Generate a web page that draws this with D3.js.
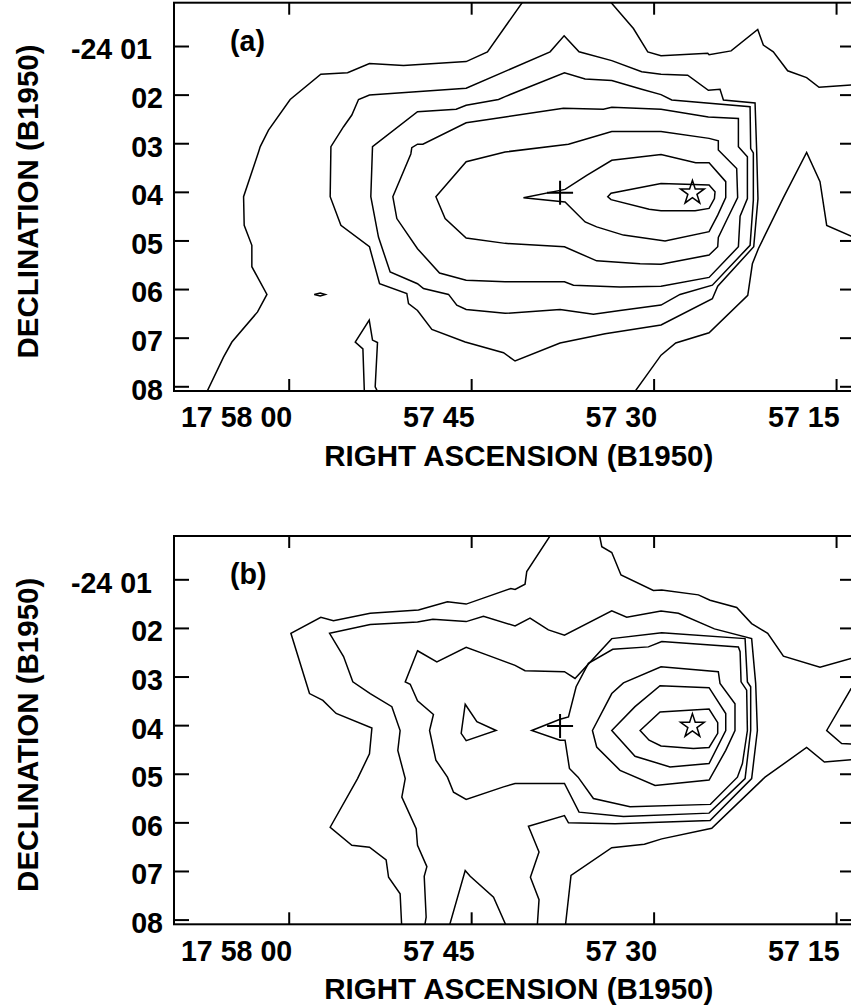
<!DOCTYPE html>
<html><head><meta charset="utf-8">
<script src="https://cdn.jsdelivr.net/npm/d3@7"></script>
<style>
body{margin:0;background:#fff}
svg{display:block}
text{font-family:"Liberation Sans",Arial,Helvetica,sans-serif;font-weight:bold;fill:#000}
</style>
</head><body>
<svg id="chart" width="851" height="1008"></svg>
<script>
// ---- axes (RA in seconds after 17h57m, Dec in arcmin below -24 00) ----
const raTicks = [60, 45, 30, 15];
const raTickLabels = ["17 58 00", "57 45", "57 30", "57 15"];
const decTicks = [1, 2, 3, 4, 5, 6, 7, 8];
const decTickLabels = ["-24 01", "02", "03", "04", "05", "06", "07", "08"];
const raDomain = [69.43, 13.69];
const decDomain = [0.109, 8.097];
const xTitle = "RIGHT ASCENSION (B1950)";
const yTitle = "DECLINATION (B1950)";
const panelLabels = ["(a)", "(b)"];

// ---- markers [ra, dec] ----
const plusPos = [37.69, 4.02];
const starPos = [26.81, 4.02];

// ---- panel (a) contours [ra, dec] ----
const a1 = [[66.87,8.19],[65.36,7.40],[64.67,7.09],[62.56,6.47],[61.79,6.11],[63.03,5.54],[63.03,5.10],[63.66,4.69],[63.71,4.10],[62.48,3.18],[62.34,3.07],[61.66,2.73],[59.88,2.10],[57.36,1.58],[55.16,1.55],[53.36,1.36],[50.56,1.40],[45.41,1.32],[43.66,1.12],[40.64,0.05]];
const a2 = [[33.69,0.05],[31.66,0.64],[30.48,1.12],[29.39,1.20],[25.55,1.15],[25.44,1.18],[23.63,1.10],[21.44,0.66],[20.98,0.98],[20.16,1.12],[18.98,1.51],[17.42,1.65],[16.40,1.85],[13.77,1.80],[13.17,1.79]];
const a3 = [[31.77,8.19],[29.39,7.36],[28.18,7.11],[25.44,6.90],[22.26,6.13],[21.88,5.48],[21.39,5.17],[19.33,4.12],[17.42,3.19],[16.32,3.79],[15.77,4.69],[13.77,4.91],[13.17,4.98]];
const a4 = [[53.77,8.19],[53.90,7.23],[54.53,7.09],[53.38,6.64],[53.11,7.05],[52.70,7.10],[52.89,8.01],[52.53,8.19]];
const a5 = [[57.90,6.11],[57.41,6.08],[57.00,6.11],[57.41,6.14]];
const a6 = [[37.36,0.79],[36.13,1.12],[33.44,1.30],[30.98,1.53],[29.39,1.58],[27.20,1.60],[25.50,1.91],[24.54,1.89],[24.26,2.11],[21.66,2.17],[21.53,3.14],[21.42,4.14],[21.77,5.13],[24.73,5.94],[25.17,6.20],[29.39,6.74],[33.99,6.92],[37.69,7.11],[41.39,7.48],[42.34,7.31],[45.49,7.09],[48.23,6.83],[49.41,6.44],[50.15,6.30],[50.29,6.09],[52.53,5.89],[53.36,5.13],[55.71,4.69],[56.59,4.10],[56.53,3.07],[55.49,2.66],[54.81,2.42],[54.26,2.10],[53.36,2.01],[45.41,1.87],[38.51,1.12]];
const a7 = [[53.25,4.10],[52.62,4.93],[51.66,5.65],[49.41,5.89],[48.92,5.99],[46.86,6.11],[46.18,6.33],[45.41,6.42],[42.21,6.50],[37.69,6.42],[34.95,6.52],[32.76,6.44],[29.39,6.33],[27.83,6.11],[25.17,5.92],[22.07,5.10],[21.80,4.17],[21.80,3.20],[22.02,3.11],[22.07,2.25],[28.51,2.11],[29.39,2.00],[30.98,1.89],[33.44,1.71],[35.63,1.68],[37.33,1.55],[42.21,2.04],[42.75,2.10],[45.41,2.22],[46.23,2.30],[49.41,2.35],[53.11,3.07]];
const a8 = [[51.44,4.10],[49.96,3.22],[49.88,3.09],[49.41,3.02],[48.97,3.02],[45.41,2.58],[42.21,2.46],[37.42,2.28],[34.13,2.30],[33.44,2.26],[29.39,2.30],[25.50,2.46],[23.03,2.49],[23.03,3.07],[22.29,3.28],[22.29,4.14],[22.89,4.50],[23.03,5.13],[25.44,5.76],[29.39,5.94],[32.76,5.96],[36.59,5.92],[37.33,5.85],[42.21,5.85],[45.41,5.82],[47.60,5.67],[49.41,5.17],[51.11,4.55]];
const a9 = [[47.90,4.10],[45.41,3.38],[42.21,3.18],[37.00,3.02],[33.44,2.76],[29.39,2.76],[25.44,2.90],[24.68,2.95],[24.68,3.14],[23.17,3.52],[23.09,4.12],[23.99,4.58],[24.68,4.94],[24.73,5.13],[25.44,5.30],[29.39,5.49],[31.11,5.48],[34.68,5.42],[37.33,5.13],[42.21,5.06],[45.41,4.95],[47.14,4.55]];
const a10 = [[40.70,4.12],[37.28,3.95],[35.50,3.66],[33.44,3.35],[29.39,3.23],[26.54,3.40],[25.44,3.40],[24.07,3.79],[24.07,4.12],[24.73,4.48],[25.44,4.82],[29.06,5.01],[32.48,4.89],[34.68,4.72],[35.63,4.62],[37.28,4.21]];
const a11 = [[33.77,4.10],[33.50,4.03],[29.39,3.83],[25.44,3.86],[24.95,4.00],[25.00,4.14],[25.44,4.34],[26.59,4.39],[29.39,4.39],[30.37,4.36],[33.50,4.16]];

// ---- panel (b) contours [ra, dec] ----
const b1 = [[38.18,-0.02],[40.43,0.84],[40.57,1.10],[41.39,1.21],[41.74,1.19],[45.41,1.51],[46.95,1.46],[49.33,1.63],[53.30,1.70],[56.32,1.85],[57.36,1.78],[59.82,2.11],[58.29,3.35],[57.19,3.49],[56.10,3.76],[53.16,4.06],[53.36,4.59],[54.34,5.10],[56.59,6.10],[54.81,6.47],[53.36,6.51],[51.99,6.77],[51.79,7.13],[50.84,7.47],[50.70,8.19]];
const b2 = [[34.54,-0.02],[34.26,0.33],[33.44,0.45],[32.68,0.91],[30.02,1.23],[29.33,1.22],[26.32,1.32],[25.36,1.43],[23.17,1.58],[21.94,1.91],[20.62,2.11],[19.33,2.58],[16.32,2.81],[13.77,2.63],[13.17,2.59]];
const b3 = [[48.86,8.19],[48.70,7.95],[48.86,7.11],[48.64,6.91],[49.41,6.47],[49.52,6.13],[50.70,5.48],[50.42,5.10],[51.03,4.52],[50.84,4.11],[51.52,3.62],[53.30,3.35],[54.73,3.11],[55.49,2.59],[56.64,2.11],[53.30,1.93],[49.41,1.88],[48.15,1.82],[45.41,1.87],[43.99,1.76],[41.39,1.96],[40.16,1.80],[38.65,2.04],[37.33,2.15],[33.44,1.65],[32.21,1.78],[29.39,1.65],[27.96,1.70],[25.00,2.02],[21.94,2.22],[21.61,3.14],[21.47,4.11],[21.94,5.10],[25.36,5.96],[33.17,6.03],[37.00,6.01],[37.33,5.86],[40.29,6.08],[39.42,6.61],[40.13,7.13],[39.42,7.59],[39.58,8.19]];
const b4 = [[37.28,8.19],[36.79,7.09],[33.44,6.52],[30.76,6.45],[29.33,6.34],[25.22,6.12],[20.84,5.07],[17.42,4.46],[15.96,4.76],[13.77,4.71],[13.17,4.70]];
const b5 = [[13.17,3.21],[13.77,3.25],[15.77,4.11],[14.54,4.38],[13.77,4.39],[13.17,4.39]];
const b6 = [[49.41,2.47],[47.82,2.70],[45.41,2.40],[43.44,2.58],[41.39,2.77],[40.57,2.88],[37.33,2.90],[36.46,3.04],[33.44,2.22],[29.33,2.10],[22.48,2.22],[22.29,3.11],[22.02,3.21],[22.02,4.11],[22.48,5.10],[25.44,5.81],[32.48,5.88],[36.13,5.79],[37.33,5.20],[41.39,5.20],[42.34,5.27],[45.41,5.53],[46.45,5.38],[46.95,5.07],[47.90,4.72],[48.42,4.11],[48.10,3.78],[49.41,3.50],[50.01,3.16],[50.42,3.11]];
const b7 = [[40.02,4.11],[37.69,3.88],[37.00,3.83],[36.37,3.21],[35.36,2.73],[33.36,2.44],[30.43,2.39],[29.33,2.28],[23.03,2.39],[22.89,2.49],[22.81,3.11],[22.35,3.28],[22.29,4.11],[22.70,4.79],[23.11,5.07],[25.33,5.63],[31.94,5.68],[34.95,5.51],[36.21,5.07],[36.92,4.89],[37.28,4.31],[37.69,4.31]];
const b8 = [[35.03,4.11],[33.44,3.35],[32.48,3.13],[29.39,2.80],[24.68,2.90],[24.54,3.14],[23.31,3.56],[23.31,4.11],[24.07,4.52],[25.44,5.13],[29.88,5.24],[32.76,4.93],[34.68,4.45]];
const b9 = [[33.44,4.11],[31.53,3.62],[29.47,3.19],[25.44,3.23],[24.07,3.76],[24.07,4.11],[25.44,4.79],[28.65,4.86],[31.53,4.64]];
const b10 = [[31.11,4.11],[29.47,3.73],[25.44,3.67],[24.73,3.95],[24.73,4.17],[25.44,4.46],[26.73,4.48],[29.39,4.43],[30.37,4.31]];
const b11 = [[45.49,3.57],[44.53,3.93],[42.95,4.11],[45.41,4.32],[45.82,4.17]];
const b12 = [[46.86,8.19],[45.49,6.99],[45.08,7.11],[43.16,7.54],[42.01,8.19]];

const panelAOpen = [a1, a2, a3, a4];
const panelAClosed = [a5, a6, a7, a8, a9, a10, a11];
const panelBOpen = [b1, b2, b3, b4, b5, b12];
const panelBClosed = [b6, b7, b8, b9, b10, b11];

// ---- drawing ----
const svg = d3.select("#chart");
const X0 = 174, X1 = 852, PH = 388.3;
const x = d3.scaleLinear().domain(raDomain).range([X0, X1]);

function drawPanel(top, idx, openLines, closedLines) {
  const y = d3.scaleLinear().domain(decDomain).range([top, top + PH]);
  const g = svg.append("g");
  const clipId = "clip" + idx;
  svg.append("defs").append("clipPath").attr("id", clipId)
    .append("rect").attr("x", X0).attr("y", top).attr("width", X1 - X0).attr("height", PH);

  const cg = g.append("g").attr("clip-path", `url(#${clipId})`);
  const lineOpen = d3.line().x(d => x(d[0])).y(d => y(d[1]));
  const lineClosed = d3.line().x(d => x(d[0])).y(d => y(d[1])).curve(d3.curveLinearClosed);
  cg.selectAll("path.o").data(openLines).join("path").attr("class", "o")
    .attr("d", lineOpen).attr("fill", "none").attr("stroke", "#000").attr("stroke-width", 1.5)
    .attr("stroke-linejoin", "miter");
  cg.selectAll("path.c").data(closedLines).join("path").attr("class", "c")
    .attr("d", lineClosed).attr("fill", "none").attr("stroke", "#000").attr("stroke-width", 1.5)
    .attr("stroke-linejoin", "miter");

  // plus marker
  const px = x(plusPos[0]), py = y(plusPos[1]);
  cg.append("path").attr("d", `M${px - 13},${py}H${px + 13}M${px},${py - 12}V${py + 12}`)
    .attr("stroke", "#000").attr("stroke-width", 2).attr("fill", "none");
  // star marker (outline)
  const sx = x(starPos[0]), sy = y(starPos[1]);
  const R = 12.5, r = R * 0.382;
  const pts = d3.range(10).map(i => {
    const a = -Math.PI / 2 + i * Math.PI / 5;
    const rr = i % 2 === 0 ? R : r;
    return [sx + rr * Math.cos(a), sy + rr * Math.sin(a)];
  });
  cg.append("path").attr("d", "M" + pts.map(p => p.join(",")).join("L") + "Z")
    .attr("fill", "none").attr("stroke", "#000").attr("stroke-width", 1.5);

  // axes
  const axB = d3.axisBottom(x).tickValues(raTicks).tickSize(-12).tickPadding(16)
    .tickFormat((d, i) => raTickLabels[i]);
  const gB = g.append("g").attr("transform", `translate(0,${top + PH})`).call(axB);
  gB.selectAll("text").attr("text-anchor", "end").attr("dx", 3).style("font-size", "28.6px");
  const axT = d3.axisTop(x).tickValues(raTicks).tickSize(-12).tickFormat("");
  g.append("g").attr("transform", `translate(0,${top})`).call(axT);
  const axL = d3.axisLeft(y).tickValues(decTicks).tickSize(-15).tickPadding(11)
    .tickFormat((d, i) => decTickLabels[i]);
  const gL = g.append("g").attr("transform", `translate(${X0},0)`).call(axL);
  gL.selectAll("text").style("font-size", "28.6px").attr("dy", "0.45em")
    .attr("dx", (d, i) => i === 0 ? -11 : 0);
  const axR = d3.axisRight(y).tickValues(decTicks).tickSize(-12).tickFormat("");
  g.append("g").attr("transform", `translate(${X1},0)`).call(axR);
  g.selectAll(".domain").remove();
  g.selectAll(".tick line").attr("stroke", "#000").attr("stroke-width", 2);
  g.selectAll(".tick text").attr("fill", "#000").style("font-family", '"Liberation Sans",Arial,sans-serif').style("font-weight", "bold");

  // frame
  g.append("rect").attr("x", X0).attr("y", top).attr("width", X1 - X0).attr("height", PH)
    .attr("fill", "none").attr("stroke", "#000").attr("stroke-width", 2);

  // panel label
  g.append("text").attr("x", 230).attr("y", top + 48.3).style("font-size", "28.6px").text(panelLabels[idx]);
  // titles
  g.append("text").attr("x", 518.8).attr("y", top + 462.8).attr("text-anchor", "middle")
    .style("font-size", "29.5px").text(xTitle);
  g.append("text").attr("transform", `translate(37.5,${top + 198.8}) rotate(-90)`)
    .attr("text-anchor", "middle").style("font-size", "29.5px").text(yTitle);
}

drawPanel(2.7, 0, panelAOpen, panelAClosed);
drawPanel(536, 1, panelBOpen, panelBClosed);
</script>
</body></html>
